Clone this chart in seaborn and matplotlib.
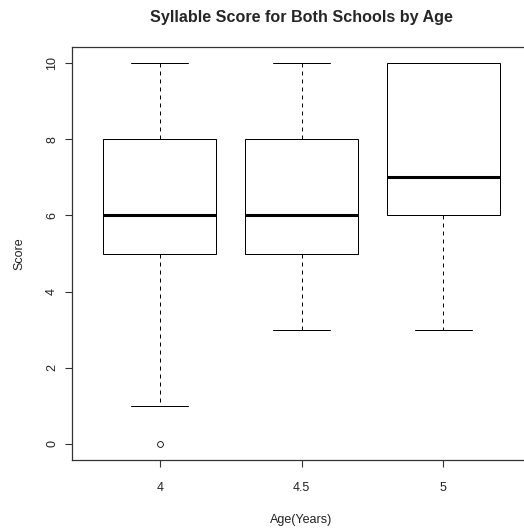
import matplotlib
matplotlib.use("Agg")
import matplotlib.pyplot as plt
import seaborn as sns
import pandas as pd

# Scores (constructed so quartiles/whiskers match)
ages = ["4", "4.5", "5"]
scores_4 = [0, 1, 5, 5, 6, 6, 8, 8, 8, 10]
scores_45 = [3, 5, 5, 6, 6, 8, 8, 10]
scores_5 = [3, 6, 6, 7, 7, 10, 10, 10]
y_ticks = [0, 2, 4, 6, 8, 10]

df = pd.DataFrame({
    "Age": [ages[0]] * len(scores_4) + [ages[1]] * len(scores_45) + [ages[2]] * len(scores_5),
    "Score": scores_4 + scores_45 + scores_5,
})

sns.set_style("ticks")
plt.rcParams["font.family"] = ["Liberation Sans", "DejaVu Sans"]

W, H = 524, 529
fig = plt.figure(figsize=(W / 100, H / 100), dpi=100)
left, right, top, bottom = 72, 531, 47, 460
ax = fig.add_axes([left / W, 1 - bottom / H, (right - left) / W, (bottom - top) / H])

lw = 0.72
sns.boxplot(
    data=df, x="Age", y="Score", order=ages, ax=ax, width=0.8,
    color="white", linecolor="black", linewidth=lw, whis=1.5,
    boxprops=dict(facecolor="white", edgecolor="black", linewidth=lw),
    whiskerprops=dict(color="black", linewidth=lw, linestyle=(0, (4, 4))),
    capprops=dict(color="black", linewidth=lw),
    medianprops=dict(color="black", linewidth=2.2),
    flierprops=dict(marker="o", markersize=4.2, markerfacecolor="none",
                    markeredgecolor="black", markeredgewidth=0.6),
)

ax.set_xlim(-0.62, 2.62)
ax.set_ylim(-0.42, 10.42)
ax.set_yticks(y_ticks)
ax.set_yticklabels([str(t) for t in y_ticks], rotation=90, va="center")
ax.set_xticks(range(len(ages)))
ax.set_xticklabels(ages)
for s in ax.spines.values():
    s.set_visible(True)
    s.set_color("#333333")
    s.set_linewidth(0.9)
ax.spines["right"].set_visible(False)
ax.tick_params(axis="both", length=5, width=0.8, color="#333333",
               labelsize=9, labelcolor="#222222")
ax.tick_params(axis="x", pad=11)
ax.tick_params(axis="y", pad=5)
ax.set_xlabel("Age(Years)", fontsize=9, labelpad=14, color="#222222")
ax.set_ylabel("Score", fontsize=9, labelpad=15, color="#222222")
ax.set_title("Syllable Score for Both Schools by Age", fontsize=11.6,
             fontweight="bold", pad=18)

fig.savefig("out.png", dpi=100, facecolor="white")
